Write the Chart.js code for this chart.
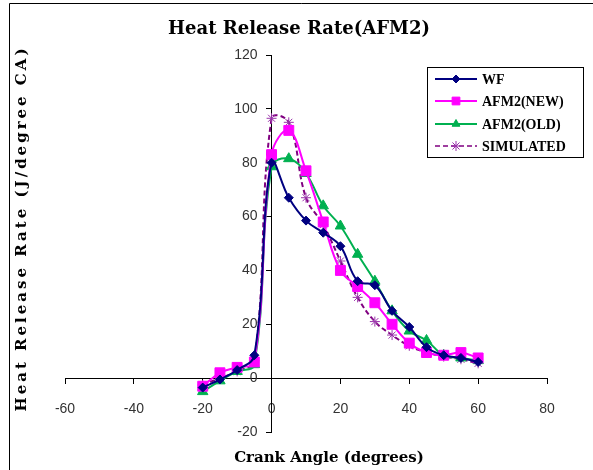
<!DOCTYPE html>
<html lang="en">
<head>
<meta charset="UTF-8">
<title>Heat Release Rate(AFM2)</title>
<script src="https://cdn.jsdelivr.net/npm/chart.js@4/dist/chart.umd.min.js"></script>
<style>
  html, body { margin: 0; padding: 0; background: #fff; }
  #wrap { position: relative; width: 593px; height: 470px; }
</style>
</head>
<body>
<div id="wrap"><canvas id="line-chart" width="593" height="470"></canvas></div>
<script>
// crank angle (degrees)
const crankAngle = [-20, -15, -10, -5, 0, 5, 10, 15, 20, 25, 30, 35, 40, 45, 50, 55, 60];
// heat release rate (J/degree CA)
const wf        = [-3.5, -0.5, 3, 8.5, 80, 67, 58.5, 54, 49, 36, 34.5, 25, 19, 11.5, 8.5, 7.5, 6];
const afm2New   = [-3, 2, 4, 6, 83, 92, 77, 58, 40, 34, 28, 20, 13, 9.5, 8.5, 9.5, 7.5];
const afm2Old   = [-5, -1, 2.5, 5, 78.5, 81.5, 76, 64, 56.5, 46, 36, 25, 17.5, 14, 8.5, 7.5, 6.5];
const simulated = [-2.5, 0, 2.5, 6.5, 96.5, 95, 67, 57, 43.5, 30, 21, 16, 12, 9.5, 8, 7, 5.5];

const seriesNames = ['WF', 'AFM2(NEW)', 'AFM2(OLD)', 'SIMULATED'];
const xRange = [-60, 80];
const yRange = [-20, 120];
const tickStep = 20;

const pairs = vals => crankAngle.map((x, i) => ({ x: x, y: vals[i] }));

const styles = [
  { color: '#000080', point: 'rectRot', r: 4.5, legendR: 4, dash: [] },
  { color: '#FF00FF', point: 'rect', r: 7, legendR: 5.5, dash: [] },
  { color: '#00B050', point: 'triangle', r: 6, legendR: 4.5, dash: [] },
  { color: '#800080', point: 'star', r: 5, legendR: 5, dash: [5, 3] }
];

const datasets = [wf, afm2New, afm2Old, simulated].map((vals, i) => ({
  label: seriesNames[i],
  data: pairs(vals),
  borderColor: styles[i].color,
  backgroundColor: styles[i].color,
  borderWidth: 2,
  borderDash: styles[i].dash,
  pointStyle: styles[i].point,
  pointRadius: styles[i].r,
  pointBorderWidth: 1,
  pointBorderColor: i == 3 ? '#9933AA' : styles[i].color,
  pointBackgroundColor: styles[i].color,
  tension: 0.4,
  fill: false
}));

// titles, legend box and outer frame drawn by hand
const decorations = {
  id: 'decorations',
  afterDraw(chart) {
    const ctx = chart.ctx;
    ctx.save();
    ctx.strokeStyle = '#000';
    ctx.lineWidth = 1;
    ctx.beginPath();
    ctx.moveTo(9.5, 470);
    ctx.lineTo(9.5, 3.5);
    ctx.lineTo(593, 3.5);
    ctx.stroke();

    ctx.fillStyle = '#000';
    ctx.textAlign = 'center';
    ctx.textBaseline = 'middle';
    ctx.font = 'bold 18px "DejaVu Serif"';
    ctx.fillText('Heat Release Rate(AFM2)', 299, 29);

    ctx.font = 'bold 15px "DejaVu Serif"';
    ctx.fillText('Crank Angle (degrees)', 329, 458);

    ctx.save();
    ctx.translate(22, 230);
    ctx.rotate(-Math.PI / 2);
    ctx.letterSpacing = '3px';
    ctx.fillText('Heat Release Rate (J/degree CA)', 1.5, 0);
    ctx.restore();

    // legend
    ctx.strokeStyle = '#000';
    ctx.lineWidth = 1;
    ctx.strokeRect(427.5, 67.5, 156, 90);
    const rows = [79, 101, 124, 146];
    ctx.font = 'bold 14px "Liberation Serif"';
    ctx.textAlign = 'left';
    rows.forEach((y, i) => {
      const s = styles[i];
      ctx.save();
      ctx.strokeStyle = s.color;
      ctx.lineWidth = i == 3 ? 1.5 : 2;
      ctx.setLineDash(s.dash);
      ctx.beginPath();
      ctx.moveTo(435, y);
      ctx.lineTo(477, y);
      ctx.stroke();
      ctx.setLineDash([]);
      ctx.fillStyle = s.color;
      ctx.lineWidth = 1;
      ctx.strokeStyle = i == 3 ? '#9933AA' : s.color;
      Chart.helpers.drawPoint(ctx, { pointStyle: s.point, radius: s.legendR, rotation: 0, borderWidth: 1 }, 456, y);
      ctx.restore();
      ctx.fillStyle = '#000';
      ctx.fillText(seriesNames[i], 482, y + 1);
    });
    ctx.restore();
  }
};

const tickFont = { family: '"Liberation Sans", Arial, sans-serif', size: 14 };

new Chart(document.getElementById('line-chart'), {
  type: 'line',
  data: { datasets: datasets },
  options: {
    responsive: false,
    animation: false,
    devicePixelRatio: 1,
    layout: { padding: { left: 65, right: 46, top: 55, bottom: 38 } },
    plugins: {
      legend: { display: false },
      title: { display: false },
      tooltip: { enabled: false }
    },
    scales: {
      x: {
        type: 'linear',
        min: xRange[0],
        max: xRange[1],
        position: { y: 0 },
        ticks: { stepSize: tickStep, color: '#333', font: tickFont, padding: 18 },
        grid: { drawOnChartArea: false, drawTicks: true, tickLength: 5, color: '#000' },
        border: { color: '#000', width: 1 }
      },
      y: {
        type: 'linear',
        min: yRange[0],
        max: yRange[1],
        position: { x: 0 },
        ticks: {
          stepSize: tickStep, color: '#333', font: tickFont,
          // labels sit right against the axis otherwise
          callback: v => v + '\u2002\u2002'
        },
        grid: { drawOnChartArea: false, drawTicks: true, tickLength: 5, color: '#000' },
        border: { color: '#000', width: 1 }
      }
    }
  },
  plugins: [decorations]
});
</script>
</body>
</html>
